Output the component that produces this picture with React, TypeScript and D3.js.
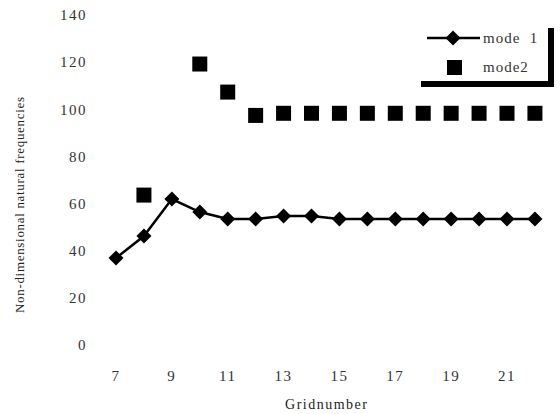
import React from "react";
import * as d3 from "d3";

const gridX = [7, 8, 9, 10, 11, 12, 13, 14, 15, 16, 17, 18, 19, 20, 21, 22];
const mode1 = [36.9, 46.2, 61.9, 56.4, 53.5, 53.5, 54.7, 54.7, 53.5, 53.5, 53.5, 53.5, 53.5, 53.5, 53.5, 53.5];
const mode2X = [8, 10, 11, 12, 13, 14, 15, 16, 17, 18, 19, 20, 21, 22];
const mode2 = [63.6, 119.2, 107.3, 97.4, 98.3, 98.3, 98.3, 98.3, 98.3, 98.3, 98.3, 98.3, 98.3, 98.3];
const yTicks = [0, 20, 40, 60, 80, 100, 120, 140];
const xTicks = [7, 9, 11, 13, 15, 17, 19, 21];
const xTitle = "Gridnumber";
const yTitle = "Non-dimensional natural frequencies";
const legendLabels = ["mode  1", "mode2"];

export default function App() {
  const W = 560, H = 414;
  const x = d3.scaleLinear().domain([7, 21]).range([116, 507]);
  const y = d3.scaleLinear().domain([0, 140]).range([345, 15]);
  const line = d3.line<number>().x((_, i) => x(gridX[i])).y((v) => y(v));
  const diamond = (cx: number, cy: number, r: number) =>
    `M${cx},${cy - r}L${cx + r},${cy}L${cx},${cy + r}L${cx - r},${cy}Z`;
  const fs = { fontFamily: '"Liberation Serif", "DejaVu Serif", serif' };
  const txt = "#333";
  const sq = 15;
  return (
    <svg width={W} height={H} style={{ position: "absolute", left: 0, top: 0, background: "#fff" }}>
      {yTicks.map((t) => (
        <text key={t} x={87} y={y(t)} dy="0.35em" textAnchor="end" style={fs} fontSize={15}
          fill={txt} letterSpacing={1.5}>{t}</text>
      ))}
      {xTicks.map((t) => (
        <text key={t} x={x(t)} y={376} dy="0.35em" textAnchor="middle" style={fs} fontSize={15}
          fill={txt} letterSpacing={1.5}>{t}</text>
      ))}
      <text x={326} y={404} dy="0.35em" textAnchor="middle" style={fs} fontSize={14} fill="#222"
        textLength={82} lengthAdjust="spacing">{xTitle}</text>
      <text transform={`translate(19,205) rotate(-90)`} dy="0.35em" textAnchor="middle" style={fs}
        fontSize={13} fill="#222" textLength={216} lengthAdjust="spacing">{yTitle}</text>
      <path d={line(mode1) || ""} fill="none" stroke="#000" strokeWidth={2.5} />
      {mode1.map((v, i) => (
        <path key={i} d={diamond(x(gridX[i]), y(v), 7.5)} fill="#000" />
      ))}
      {mode2.map((v, i) => (
        <rect key={i} x={x(mode2X[i]) - sq / 2} y={y(v) - sq / 2} width={sq} height={sq} fill="#000" />
      ))}
      <g>
        <line x1={427} x2={480} y1={38} y2={38} stroke="#000" strokeWidth={2.5} />
        <path d={diamond(453, 38, 7.5)} fill="#000" />
        <rect x={447} y={60} width={15} height={15} fill="#000" />
        <text x={483} y={38} dy="0.35em" style={{ ...fs, whiteSpace: "pre" }} fontSize={15} fill={txt}
          letterSpacing={1}>{legendLabels[0]}</text>
        <text x={483} y={67} dy="0.35em" style={fs} fontSize={15} fill={txt}
          letterSpacing={1}>{legendLabels[1]}</text>
        <rect x={548} y={28} width={6} height={59} fill="#000" />
        <rect x={421} y={81} width={133} height={6} fill="#000" />
      </g>
    </svg>
  );
}
